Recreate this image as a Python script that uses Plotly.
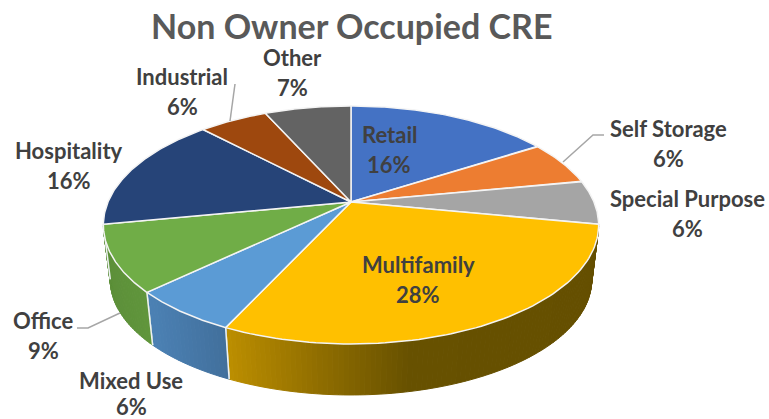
import numpy as np
import plotly.graph_objects as go

# ---- data
categories = ["Retail", "Self Storage", "Special Purpose", "Multifamily", "Mixed Use",
              "Office", "Hospitality", "Industrial", "Other"]
percent_labels = [16, 6, 6, 28, 6, 9, 16, 6, 7]
drawn_shares = [16.0, 6.0, 6.0, 29.0, 6.0, 9.0, 15.8, 5.4, 6.8]

# ---- styles
top_colors = ["#4472C4", "#ED7D31", "#A5A5A5", "#FFC000", "#5B9BD5",
              "#70AD47", "#264478", "#9E480E", "#636363"]
wall_stops = {
    "Multifamily": [(224, "#bd8f00"), (320, "#8f6d00"), (410, "#675100"), (600, "#654f00")],
    "Mixed Use": [(153, "#4b80b3"), (227, "#416f9b")],
    "Office": [(103, "#5c8f39"), (153, "#61973c")],
}
label_pos = {
    "Retail": (389, 134, 164), "Self Storage": (668, 128, 158),
    "Special Purpose": (687, 198, 228), "Multifamily": (418, 264, 294),
    "Mixed Use": (131, 380, 406), "Office": (43, 320, 350),
    "Hospitality": (69, 150, 180), "Industrial": (182, 76, 106), "Other": (292, 57, 87),
}
leaders = [([563, 593, 604], [162, 135, 135]),
           ([77, 88, 120], [328, 328, 313]),
           ([235, 230], [84, 121])]

CX, APEX_Y = 351.0, 202.0
K, A, B = 0.193, 114.6, 243.0
WALL_SCALE_X, WALL_SCALE_Y, WALL_TOP_CY, WALL_BOT_CY = 0.972, 0.966, 225.0, 280.0


def top_xy(theta):
    u, v = np.sin(theta), np.cos(theta)
    w = 1 + K * v
    return CX + B * u / w, APEX_Y - A * v / w


def bottom_xy(theta):
    x, y = top_xy(theta)
    return CX + WALL_SCALE_X * (x - CX), WALL_BOT_CY + WALL_SCALE_Y * (y - WALL_TOP_CY)


def hex2rgb(h):
    return np.array([int(h[i:i + 2], 16) for i in (1, 3, 5)], dtype=float)


def grad(stops, x):
    xs = [s[0] for s in stops]
    cols = np.array([hex2rgb(s[1]) for s in stops])
    c = [np.interp(x, xs, cols[:, i]) for i in range(3)]
    return "rgb(%d,%d,%d)" % tuple(round(v) for v in c)


fig = go.Figure()
total = sum(drawn_shares)
edges = 2 * np.pi * np.concatenate([[0], np.cumsum(drawn_shares)]) / total

# side wall
for i, name in enumerate(categories):
    if name not in wall_stops:
        continue
    t0, t1 = edges[i], edges[i + 1]
    ts = np.linspace(t0, t1, int(max(6, (t1 - t0) / 0.018)) + 1)
    for a, b in zip(ts[:-1], ts[1:]):
        xa, ya = top_xy(a); xb, yb = top_xy(b)
        xc, yc = bottom_xy(b); xd, yd = bottom_xy(a)
        col = grad(wall_stops[name], (xa + xb) / 2)
        fig.add_trace(go.Scatter(x=[xa, xb, xc, xd, xa], y=[ya, yb, yc, yd, ya], mode="lines",
                                 fill="toself", fillcolor=col, line=dict(color=col, width=1),
                                 hoverinfo="skip"))
    # white edge between wall pieces
    for t in (t0, t1):
        if name == "Multifamily" and t == t0:
            continue
        x0, y0 = top_xy(t); x1, y1 = bottom_xy(t)
        fig.add_trace(go.Scatter(x=[x0, x1], y=[y0, y1], mode="lines",
                                 line=dict(color="#eef2f2", width=1.5), hoverinfo="skip"))

# top surface
for i, name in enumerate(categories):
    ts = np.linspace(edges[i], edges[i + 1], 80)
    xs, ys = top_xy(ts)
    fig.add_trace(go.Scatter(x=np.r_[CX, xs, CX], y=np.r_[APEX_Y, ys, APEX_Y], mode="lines",
                             fill="toself", fillcolor=top_colors[i],
                             line=dict(color="#f4f4f4", width=1.5), name=name, hoverinfo="skip"))

# leader lines
for lx, ly in leaders:
    fig.add_trace(go.Scatter(x=lx, y=ly, mode="lines", line=dict(color="#a6a6a6", width=1.5),
                             hoverinfo="skip"))

FONT = "Lato"
ann = [dict(x=351, y=25, text="<b>Non Owner Occupied CRE</b>", showarrow=False, xref="x", yref="y",
            font=dict(family=FONT, size=34, color="#595959"))]
for name, pct in zip(categories, percent_labels):
    lx, y1, y2 = label_pos[name]
    for txt, yy in ((name, y1), (f"{pct}%", y2)):
        ann.append(dict(x=lx, y=yy, text=f"<b>{txt}</b>", showarrow=False, xref="x", yref="y",
                        font=dict(family=FONT, size=22, color="#404040")))

fig.update_layout(
    width=769, height=419, autosize=False, showlegend=False,
    margin=dict(l=0, r=0, t=0, b=0), paper_bgcolor="white", plot_bgcolor="white",
    xaxis=dict(range=[0, 769], visible=False, fixedrange=True),
    yaxis=dict(range=[419, 0], visible=False, fixedrange=True),
    annotations=ann,
)
fig.write_html("out.html", config=dict(displayModeBar=False),
               post_script="document.body.style.margin='0';document.body.style.overflow='hidden';")
